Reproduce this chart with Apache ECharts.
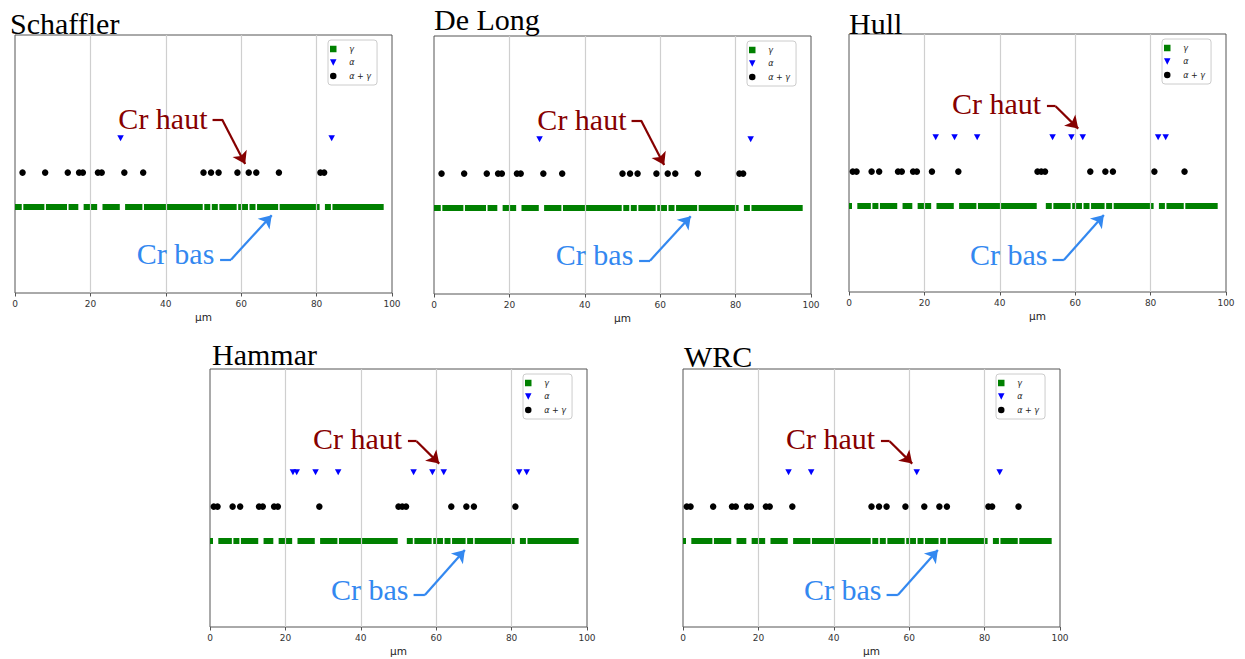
<!DOCTYPE html>
<html><head><meta charset="utf-8">
<script src="https://cdn.jsdelivr.net/npm/echarts@6/dist/echarts.min.js"></script>
<style>html,body{margin:0;padding:0;background:#fff}#c{width:1245px;height:659px}</style>
</head><body><div id="c"></div>
<script>
// ---------- data ----------
const panelTitles = ['Schaffler', 'De Long', 'Hull', 'Hammar', 'WRC'];
const xTicks = [0, 20, 40, 60, 80, 100];
const legendLabels = ['γ', 'α', 'α + γ'];
const annotationTexts = ['Cr haut', 'Cr bas'];
const axisName = 'µm';
// vertical level of each phase row
const LEVEL_GAMMA = 1, LEVEL_MIX = 2, LEVEL_ALPHA = 3;

const schafflerGamma = [0,1,3,4,5,6,7,9,10,11,12,13,15,16,19,20,21,24,25,26,27,30,31,32,33,35,36,37,38,39,40,41,42,43,44,45,46,47,48,49,51,53,55,56,57,58,60,61,63,65,66,67,68,69,71,72,73,74,75,76,77,78,79,80,83,85,86,87,88,89,90,91,92,93,94,95,96,97];
const schafflerAlpha = [28, 84];
const schafflerMix = [2,8,14,17,18,22,23,29,34,50,52,54,59,62,64,70,81,82];

const deLongGamma = [0,1,3,4,5,6,7,9,10,11,12,13,15,16,19,20,21,24,25,26,27,30,31,32,33,35,36,37,38,39,40,41,42,43,44,45,46,47,48,49,51,53,55,56,57,58,60,61,63,65,66,67,68,69,71,72,73,74,75,76,77,78,79,80,83,85,86,87,88,89,90,91,92,93,94,95,96,97];
const deLongAlpha = [28, 84];
const deLongMix = [2,8,14,17,18,22,23,29,34,50,52,54,59,62,64,70,81,82];

const hullGamma = [0,3,4,5,7,9,10,11,12,15,16,19,20,21,24,25,26,27,30,31,32,33,35,36,37,38,39,40,41,42,43,44,45,46,47,48,49,53,55,56,57,58,60,61,63,65,66,67,69,71,72,73,74,75,76,77,78,79,80,83,85,86,87,88,90,91,92,93,94,95,96,97];
const hullAlpha = [23,28,34,54,59,62,82,84];
const hullMix = [1,2,6,8,13,14,17,18,22,29,50,51,52,64,68,70,81,89];

const hammarGamma = [0,3,4,5,7,9,10,11,12,15,16,19,20,21,24,25,26,27,30,31,32,33,35,36,37,38,39,40,41,42,43,44,45,46,47,48,49,53,55,56,57,58,60,61,63,65,66,67,69,71,72,73,74,75,76,77,78,79,80,83,85,86,87,88,89,90,91,92,93,94,95,96,97];
const hammarAlpha = [22,23,28,34,54,59,62,82,84];
const hammarMix = [1,2,6,8,13,14,17,18,29,50,51,52,64,68,70,81];

const wrcGamma = [0,3,4,5,6,7,9,10,11,12,15,16,19,20,21,24,25,26,27,30,31,32,33,35,36,37,38,39,40,41,42,43,44,45,46,47,48,49,51,53,55,56,57,58,60,61,63,65,66,67,69,71,72,73,74,75,76,77,78,79,80,83,85,86,87,88,90,91,92,93,94,95,96,97];
const wrcAlpha = [28,34,62,84];
const wrcMix = [1,2,8,13,14,17,18,22,23,29,50,52,54,59,64,68,70,81,82,89];

// ---------- layout / styling (not data) ----------
const PW = 377, PH = 258;
const panelLayout = [
  { left: 15,  top: 35,  titleX: 10,  titleY: 23 },
  { left: 434, top: 36,  titleX: 434, titleY: 19.5 },
  { left: 849, top: 34,  titleX: 849, titleY: 23 },
  { left: 210, top: 369, titleX: 212, titleY: 354.5 },
  { left: 683, top: 369, titleX: 684, titleY: 356.5 }
];
// annotation anchors in data coordinates: text right-edge anchor, elbow segment, arrow segment
const annoLow = {
  haut: { text: [51.2, 3.56], elbow: [[52.4, 3.55], [54.9, 3.55]], arrow: [[54.9, 3.55], [61.05, 2.25]] },
  bas:  { text: [53.0, -0.35], elbow: [[54.4, -0.53], [57.3, -0.53]], arrow: [[57.3, -0.53], [68.1, 0.76]] }
};
const annoHigh = {
  haut: { text: [51.1, 3.97], elbow: [[52.5, 3.9], [54.8, 3.9]], arrow: [[54.8, 3.9], [60.8, 3.25]] },
  bas:  { text: [52.8, -0.42], elbow: [[54.0, -0.57], [57.0, -0.57]], arrow: [[57.0, -0.57], [67.6, 0.74]] }
};
const panelAnno = [annoLow, annoLow, annoHigh, annoHigh, annoHigh];

const panelSeriesData = [
  [schafflerGamma, schafflerAlpha, schafflerMix],
  [deLongGamma, deLongAlpha, deLongMix],
  [hullGamma, hullAlpha, hullMix],
  [hammarGamma, hammarAlpha, hammarMix],
  [wrcGamma, wrcAlpha, wrcMix]
];

const GREEN = '#008000', BLUE = '#0000ff', BLACK = '#000000';
const RED_ANNO = '#860000', BLUE_ANNO = '#3388f0';
const SQ = 6;
const triDown = 'path://M0,0L10,0L5,10Z';
const sqPath = 'path://M0,0L10,0L10,10L0,10Z';
const circPath = 'path://M5,0A5,5,0,1,1,5,10A5,5,0,1,1,5,0Z';
const serifFont = '"Liberation Serif", "DejaVu Serif", serif';

// square markers clipped to the plot area (as matplotlib does)
function renderSquare(params, api) {
  const p = api.coord([api.value(0), api.value(1)]);
  const cs = params.coordSys;
  const shape = echarts.graphic.clipRectByRect(
    { x: p[0] - SQ / 2, y: p[1] - SQ / 2, width: SQ, height: SQ },
    { x: cs.x, y: cs.y, width: cs.width, height: cs.height });
  return shape && { type: 'rect', shape: shape, style: { fill: GREEN } };
}

const grids = [], xAxes = [], yAxes = [], series = [], legends = [], graphics = [];

panelLayout.forEach((L, i) => {
  grids.push({ left: L.left, top: L.top, width: PW, height: PH, show: true,
    borderColor: '#555', borderWidth: 1, backgroundColor: '#fff' });
  xAxes.push({ gridIndex: i, type: 'value', min: xTicks[0], max: xTicks[xTicks.length - 1],
    interval: xTicks[1] - xTicks[0], z: 3,
    name: axisName, nameLocation: 'middle', nameGap: 18,
    nameTextStyle: { fontFamily: 'DejaVu Sans', fontSize: 10.5, color: '#222' },
    axisLine: { show: false, onZero: false },
    axisTick: { show: true, inside: false, length: 3.5, lineStyle: { color: '#555', width: 1 } },
    axisLabel: { fontFamily: 'DejaVu Sans', fontSize: 9, color: '#333', margin: 6 },
    splitLine: { show: true, showMinLine: false, showMaxLine: false,
      lineStyle: { color: '#cfcfcf', width: 1.2 } } });
  yAxes.push({ gridIndex: i, type: 'value', min: -1.5, max: 6, show: false });

  const [g, a, m] = panelSeriesData[i];
  series.push({ type: 'custom', name: legendLabels[0], xAxisIndex: i, yAxisIndex: i,
    renderItem: renderSquare, itemStyle: { color: GREEN },
    encode: { x: 0, y: 1 },
    data: g.map(x => [x, LEVEL_GAMMA]), z: 2, silent: true });
  series.push({ type: 'scatter', name: legendLabels[1], xAxisIndex: i, yAxisIndex: i,
    symbol: triDown, symbolSize: [6.5, 6], itemStyle: { color: BLUE, opacity: 1 },
    data: a.map(x => [x, LEVEL_ALPHA]), z: 2, silent: true });
  series.push({ type: 'scatter', name: legendLabels[2], xAxisIndex: i, yAxisIndex: i,
    symbol: 'circle', symbolSize: 6.5, itemStyle: { color: BLACK, opacity: 1 },
    data: m.map(x => [x, LEVEL_MIX]), z: 2, silent: true });

  const A = panelAnno[i];
  [['haut', RED_ANNO, annotationTexts[0]], ['bas', BLUE_ANNO, annotationTexts[1]]].forEach(([k, col, txt]) => {
    series.push({ type: 'lines', coordinateSystem: 'cartesian2d', xAxisIndex: i, yAxisIndex: i,
      silent: true, z: 6, symbol: ['none', 'none'],
      lineStyle: { color: col, width: 2.2, opacity: 1, curveness: 0 },
      data: [{ coords: A[k].elbow }] });
    series.push({ type: 'lines', coordinateSystem: 'cartesian2d', xAxisIndex: i, yAxisIndex: i,
      silent: true, z: 6, symbol: ['none', 'arrow'], symbolSize: [10, 12],
      itemStyle: { color: col },
      lineStyle: { color: col, width: 2.2, opacity: 1, curveness: 0 },
      data: [{ coords: A[k].arrow }] });
    series.push({ type: 'scatter', name: '_anno', xAxisIndex: i, yAxisIndex: i, silent: true, z: 6,
      symbolSize: 1, itemStyle: { color: 'rgba(0,0,0,0)', opacity: 1 },
      label: { show: true, position: 'left', distance: 0, formatter: txt, opacity: 1,
        fontFamily: serifFont, fontSize: 30, color: col },
      data: [A[k].text] });
  });

  legends.push({ orient: 'vertical', left: L.left + PW - 64, top: L.top + 5,
    itemWidth: 22, itemHeight: 6.5, itemGap: 5.5, padding: [5, 6, 5, 2],
    borderColor: '#cccccc', borderWidth: 1, borderRadius: 3, backgroundColor: '#ffffff',
    selectedMode: false,
    textStyle: { fontFamily: 'DejaVu Sans', fontStyle: 'italic', fontSize: 8, color: '#222' },
    data: [
      { name: legendLabels[0], icon: sqPath, itemStyle: { color: GREEN } },
      { name: legendLabels[1], icon: triDown, itemStyle: { color: BLUE } },
      { name: legendLabels[2], icon: circPath, itemStyle: { color: BLACK } }
    ] });

  graphics.push({ type: 'text', x: L.titleX, y: L.titleY, z: 10,
    style: { text: panelTitles[i], fontFamily: serifFont, fontSize: 30, fill: '#000',
      align: 'left', verticalAlign: 'middle' } });
});

const chart = echarts.init(document.getElementById('c'), null, { renderer: 'svg' });
chart.setOption({
  animation: false,
  backgroundColor: '#ffffff',
  grid: grids, xAxis: xAxes, yAxis: yAxes, legend: legends,
  series: series, graphic: graphics, tooltip: { show: false }
});
</script></body></html>
